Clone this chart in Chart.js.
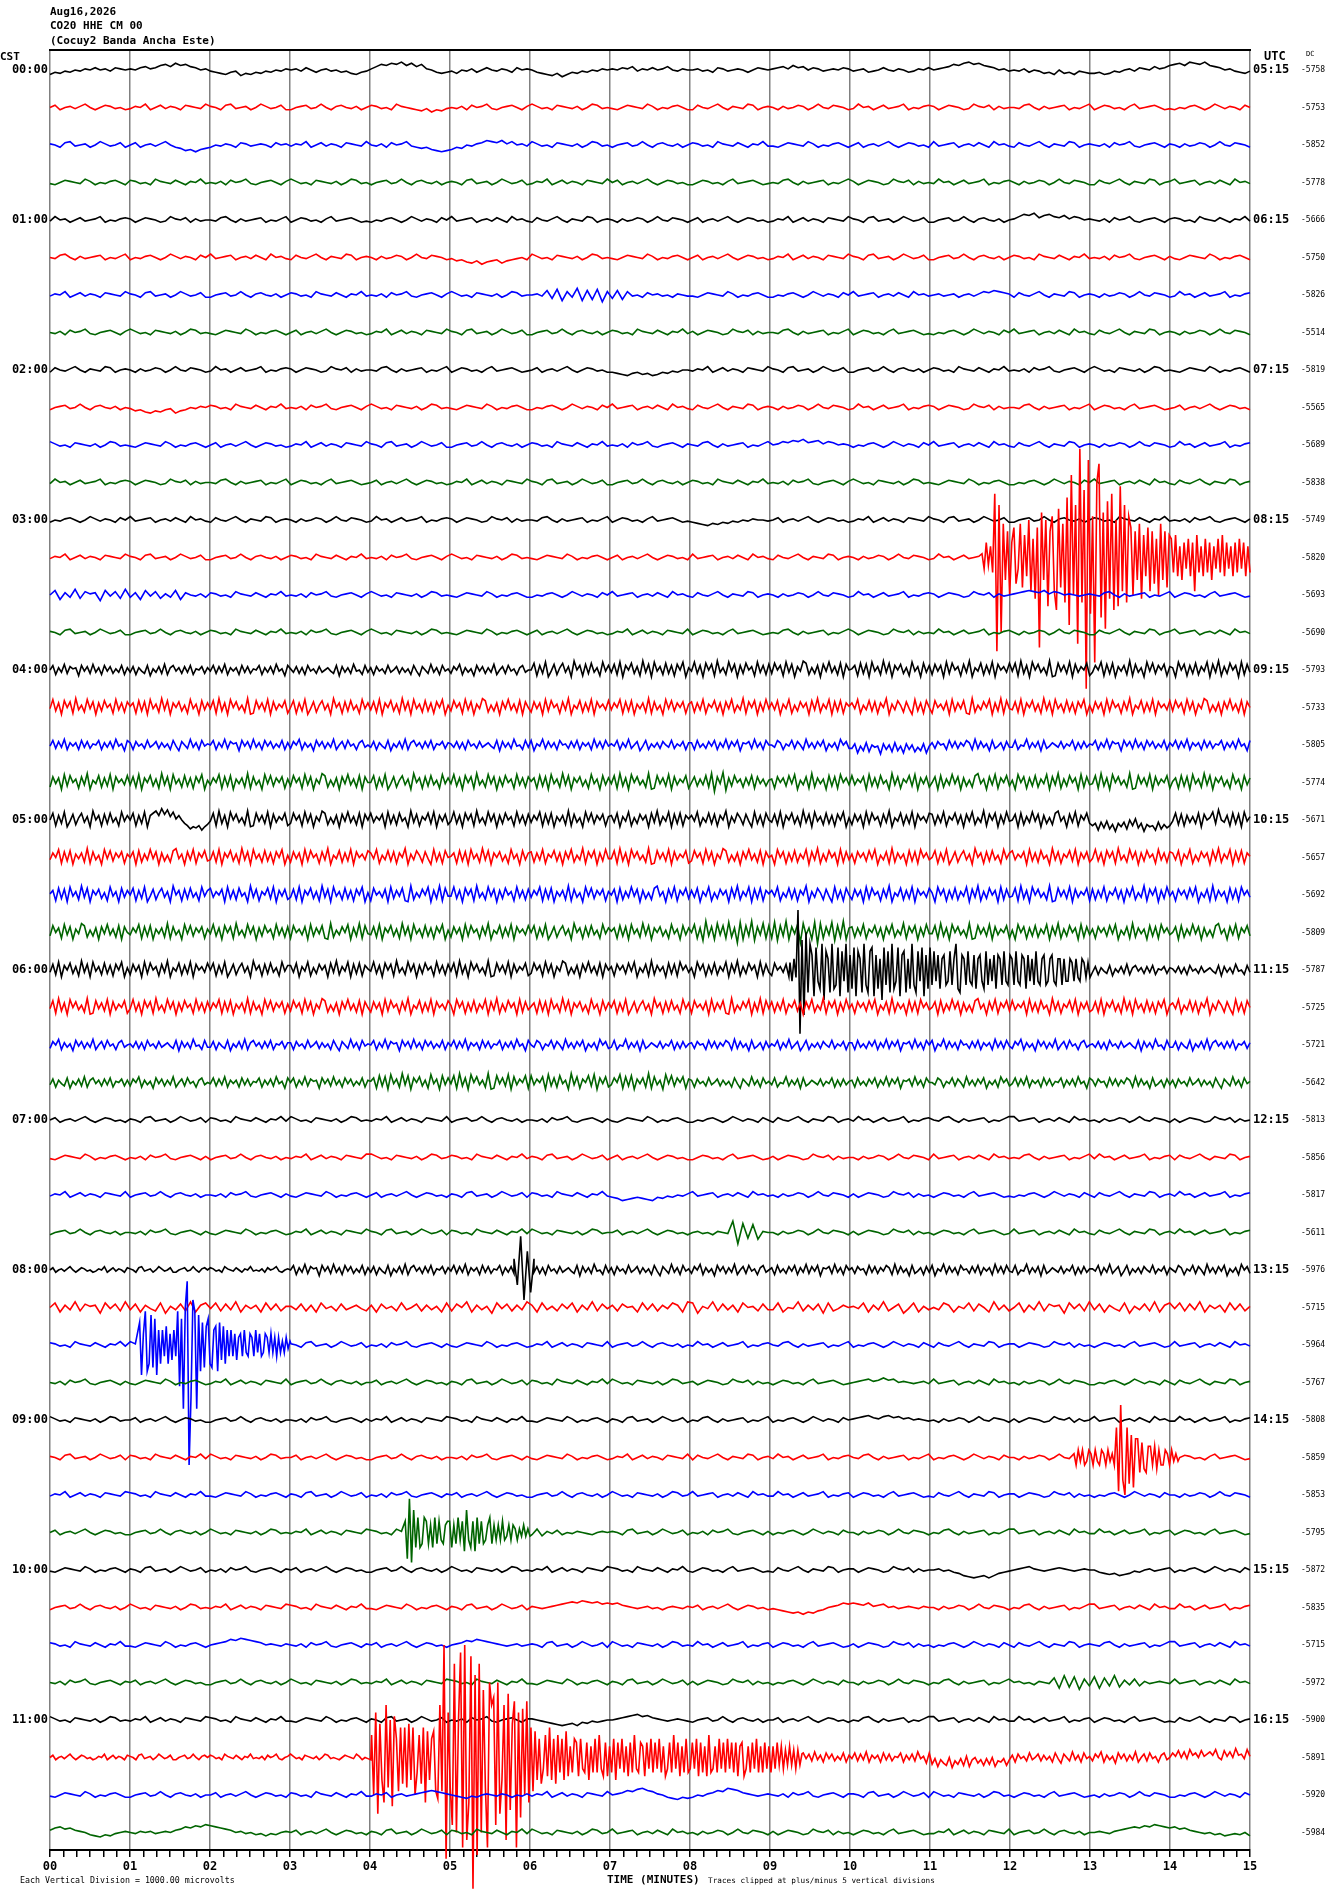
<!DOCTYPE html>
<html>
<head>
<meta charset="utf-8">
<script src="https://cdn.jsdelivr.net/npm/chart.js@4.4.1/dist/chart.umd.min.js"></script>
<style>
  html, body { margin: 0; padding: 0; background: #fff; }
  #heli { display: block; }
</style>
</head>
<body>
<canvas id="heli" width="1330" height="1894"></canvas>
<script>
// ---- labels ----
const headerLines = ['Aug16,2026', 'CO20 HHE CM 00', '(Cocuy2 Banda Ancha Este)'];
const cstLabels = ['00:00','01:00','02:00','03:00','04:00','05:00','06:00','07:00','08:00','09:00','10:00','11:00'];
const utcLabels = ['05:15','06:15','07:15','08:15','09:15','10:15','11:15','12:15','13:15','14:15','15:15','16:15'];
const minuteLabels = ['00','01','02','03','04','05','06','07','08','09','10','11','12','13','14','15'];
const dcValues = [-5758,-5753,-5852,-5778, -5666,-5750,-5826,-5514, -5819,-5565,-5689,-5838,
                  -5749,-5820,-5693,-5690, -5793,-5733,-5805,-5774, -5671,-5657,-5692,-5809,
                  -5787,-5725,-5721,-5642, -5813,-5856,-5817,-5611, -5976,-5715,-5964,-5767,
                  -5808,-5859,-5853,-5795, -5872,-5835,-5715,-5972, -5900,-5891,-5920,-5984];

// ---- trace samples ----
// one letter per sample, 'm' = 0, each step = 30 microvolts; spaces mark the minutes
const baseStepUv = 30;
const burstStepUv = 100;
const uvPerDivision = 1000;

const traces00 = [
  'ikjlkmlnmomnlonm nmopnoqrpsqrpomn lkjiklhjikjlkmln mnlomkmnlmkljikl nprqsrtqsprnmkjk ljmlnkmomlnmkomn mkjihjgikjlkmlnm nmonplnmomnpmlnm mnlmkonlmnmkmonm nopnqopmonlmnmon lmnklmomlnmklnmo mnoprqstrsqpomnl mlnkmljkimjkilkj jkijlkmnlonmpnoq rsqtsrtqpomnlkjl',
  'mokmnlnpmkmonlmk lnmpkmolnmkonmlp nmkoplmnkmpnlmok kmnolmpmknomlnkm onlmkpnmlkjlikjl mlnkomnplkmnomkn pnlmkonmlnkmpolm lkmonmlpnkmlnomk komlnpmknmlpokmn mknlmonkmpmlonmk lpmnkmolmnpkmlno nkmonmklpnmoknlm mlopmknlmnokmlnp kmonlmknplmnomkl kmlnomkmpnlnmkom',
  'nmkoplmnkmpnlmok mokmnlnpmkjhigij kmlnmkonlmnmkomn lnmpkmolnmkonmlp mlnkomnplkjkihgh ikjmlnoqpoqnpmnl pnlmkonmlnkmpolm kmnolmpmknomlnkm onlmkpnmlomknmpl lkmonmlpnkmlnomk mokmnlnpmkmonlmk plmnokmnlomkpmnl komlnpmknmlpokmn mlnkomnplkmnomkn mknlmonkmpmlonmk',
  'lkmonmlpnkmlnomk onlmkpnmlomknmpl mlnkomnplkmnomkn pnlmkonmlnkmpolm kmnolmpmknomlnkm nmkoplmnkmpnlmok lnmpkmolnmkonmlp mokmnlnpmkmonlmk kmonlmknplmnomkl mlopmknlmnokmlnp nkmonmklpnmoknlm lpmnkmolmnpkmlno mknlmonkmpmlonmk komlnpmknmlpokmn plmnokmnlomkpmnl'
];
const traces01 = [
  'lpmnkmolmnpkmlno nkmonmklpnmoknlm mlopmknlmnokmlnp kmonlmknplmnomkl kmlnomkmpnlnmkom plmnokmnlomkpmnl komlnpmknmlpokmn mknlmonkmpmlonmk mokmnlnpmkmonlmk lnmpkmolnmkonmlp nmkoplmnkmpnlmok kmnolmpmknomlnkm nprqsoqrpoqnpomn mlnkomnplkmnomkn onlmkpnmlomknmpl',
  'mlopmknlmnokmlnp kmlnomkmpnlnmkom plmnokmnlomkpmnl komlnpmknmlpokmn mknlmonkmpmlonmk ljkihjgijkhjklmk pnlmkonmlnkmpolm lkmonmlpnkmlnomk mokmnlnpmkmonlmk lnmpkmolnmkonmlp nmkoplmnkmpnlmok kmnolmpmknomlnkm onlmkpnmlomknmpl mlnkomnplkmnomkn lkmonmlpnkmlnomk',
  'lnmpkmolnmkonmlp nmkoplmnkmpnlmok kmnolmpmknomlnkm onlmkpnmlomknmpl mlnkomnplkmnomkn pnlmkonmlnkmpolm mnlqjrhpkshqirgp jqiplmkomnlmknml lkmonmlpnkmlnomk kmlnomkmpnlnmkom plmnokmnlomkpmnl mnlmnkmnlnpoqpon komlnpmknmlpokmn mknlmonkmpmlonmk lpmnkmolmnpkmlno',
  'mlnkomnplkmnomkn pnlmkonmlnkmpolm lkmonmlpnkmlnomk mokmnlnpmkmonlmk lnmpkmolnmkonmlp nmkoplmnkmpnlmok kmnolmpmknomlnkm onlmkpnmlomknmpl nkmonmklpnmoknlm mlopmknlmnokmlnp kmonlmknplmnomkl kmlnomkmpnlnmkom plmnokmnlomkpmnl komlnpmknmlpokmn mknlmonkmpmlonmk'
];
const traces02 = [
  'komlnpmknmlpokmn mknlmonkmpmlonmk lpmnkmolmnpkmlno nkmonmklpnmoknlm mlopmknlmnokmlnp kmonlmknplmnomkl mokmnlnpmkmonlmk kjihjkijhikjlkmm lnmpkmolnmkonmlp nmkoplmnkmpnlmok kmnolmpmknomlnkm onlmkpnmlomknmpl mlnkomnplkmnomkn pnlmkonmlnkmpolm lkmonmlpnkmlnomk',
  'kmnolmpmknomlnkm ljkihjiklhjkmlnm onlmkpnmlomknmpl mlnkomnplkmnomkn pnlmkonmlnkmpolm lkmonmlpnkmlnomk kmlnomkmpnlnmkom plmnokmnlomkpmnl komlnpmknmlpokmn mknlmonkmpmlonmk lpmnkmolmnpkmlno nkmonmklpnmoknlm mlopmknlmnokmlnp kmonlmknplmnomkl mokmnlnpmkmonlmk',
  'pnlmkonmlnkmpolm lkmonmlpnkmlnomk mokmnlnpmkmonlmk lnmpkmolnmkonmlp nmkoplmnkmpnlmok kmnolmpmknomlnkm onlmkpnmlomknmpl mlnkomnplkmnomkn mlopmknlmnokmlnp mnpoqpropqnpomnm kmlnomkmpnlnmkom plmnokmnlomkpmnl komlnpmknmlpokmn mknlmonkmpmlonmk lpmnkmolmnpkmlno',
  'lpmnkmolmnpkmlno nkmonmklpnmoknlm mlopmknlmnokmlnp kmonlmknplmnomkl mokmnlnpmkmonlmk lnmpkmolnmkonmlp nmkoplmnkmpnlmok kmnolmpmknomlnkm onlmkpnmlomknmpl mlnkomnplkmnomkn pnlmkonmlnkmpolm lkmonmlpnkmlnomk kmlnomkmpnlnmkom plmnokmnlomkpmnl komlnpmknmlpokmn'
];
const traces03 = [
  'kmlnomkmpnlnmkom plmnokmnlomkpmnl komlnpmknmlpokmn mknlmonkmpmlonmk lpmnkmolmnpkmlno nkmonmklpnmoknlm mlopmknlmnokmlnp kmonlmknplmnomkl kjihjikjlkmlnmml mokmnlnpmkmonlmk lnmpkmolnmkonmlp nmkoplmnkmpnlmok kmnolmpmknomlnkm onlmkpnmlomknmpl mlnkomnplkmnomkn',
  'lnmpkmolnmkonmlp nmkoplmnkmpnlmok kmnolmpmknomlnkm onlmkpnmlomknmpl mlnkomnplkmnomkn pnlmkonmlnkmpolm lkmonmlpnkmlnomk mokmnlnpmkmonlmk plmnokmnlomkpmnl komlnpmknmlpokmn mknlmonkmpmlonmk lpmnkmolmnpkmlno nkmonmklpnmoknlm mlopmknlmnokmlnp kmonlmknplmnomkl',
  'mqiokrjpnohqlpjr koiqlpjnkqiomlnk onlmkpnmlomknmpl mlnkomnplkmnomkn pnlmkonmlnkmpolm lkmonmlpnkmlnomk kmlnomkmpnlnmkom plmnokmnlomkpmnl komlnpmknmlpokmn mknlmonkmpmlonmk lpmnkmolmnpkmlno nkmonmklpnmoknlm nopqpoqnpomnmlmn mlopmknlmnokmlnp kmonlmknplmnomkl',
  'nmkoplmnkmpnlmok kmnolmpmknomlnkm onlmkpnmlomknmpl mlnkomnplkmnomkn pnlmkonmlnkmpolm lkmonmlpnkmlnomk mokmnlnpmkmonlmk lnmpkmolnmkonmlp kmonlmknplmnomkl mlopmknlmnokmlnp nkmonmklpnmoknlm lpmnkmolmnpkmlno mknlmonkmpmlonmk komlnpmknmlpokmn plmnokmnlomkpmnl'
];
const traces04 = [
  'mqiokrjpnohqlpjrkoiqlpjnkqio kpioljqhnkpjrioqlojpkqinmpjo lqjpkrioloiqkpjnmqiokpjrlnhq nkpjoiqlnjpkmoljqhpkojrlmiqk oiplnjqkmpjokniqlhpmjrkoiqln jpmrioknhqlpjokrimpjqlnioqkm mshqjtglrioskpgumqhrjskohtlq kritgqmsjphukrgtlpisjqhrmtgo ltjqgsmrhukoitlrgqjsmphtkqir jsmqhtkrgplusiojqgrltkpisgrm nqhsjrgtlpiuksgqmrjohtlpgskq irlqgtjsmphrkugolsiqjtgrmpks lshujqgtmrkoiughslqjtgrkpmsh kqmthrjsgplqiuhrkogtlsjqmrhp ogtmrhqjsipltgrkuhpjsmqgtirk',
  'ltjqgsmrhukoitlrgqjsmphtkqir nqhsjrgtlpiuksgqmrjohtlpgskq lshujqgtmrkoiughslqjtgrkpmsh mshqjtglrioskpgumqhrjskohtlq kritgqmsjphukrgtlpisjqhrmtgo jsmqhtkrgplusiojqgrltkpisgrm irlqgtjsmphrkugolsiqjtgrmpks kqmthrjsgplqiuhrkogtlsjqmrhp riqkthpmsjqgrltiokuhrmsgqjtl qksgplthojrmqgskuipltgrjshqn qlthoksjrhqmugpksoirlgtjqhsm hsmpkrgtjqlshguiokrmtgqjuhsl kritgqmsjphukrgtlpisjqhrmtgo irlqgtjsmphrkugolsiqjtgrmpks jsmqhtkrgplusiojqgrltkpisgrm',
  'lqjpkrioloiqkpjnmqiokpjrlnhq oiplnjqkmpjokniqlhpmjrkoiqln mqiokrjpnohqlpjrkoiqlpjnkqio jpmrioknhqlpjokrimpjqlnioqkm kpioljqhnkpjrioqlojpkqinmpjo nkpjoiqlnjpkmoljqhpkojrlmiqk qhnlrjpkoiqmnjpkqioloirkpjql nlqiokrjmphlqinkojpmkqjnlpio oiqknjplqiokrjplqhonpjrkoiqm mkqoinlqjpmirkojplqhnkoirmpj jnflhogmklenimgohlfnimgkhnfl ojpmniqkpjolqoirjpknhqjloipk kqimlrjokphqjlomkpjnlqiojpkn mqiokrjpnohqlpjrkoiqlpjnkqio lqjpkrioloiqkpjnmqiokpjrlnhq',
  'irlqgtjsmphrkugolsiqjtgrmpks kritgqmsjphukrgtlpisjqhrmtgo kqmthrjsgplqiuhrkogtlsjqmrhp jsmqhtkrgplusiojqgrltkpisgrm mshqjtglrioskpgumqhrjskohtlq ltjqgsmrhukoitlrgqjsmphtkqir nqhsjrgtlpiuksgqmrjohtlpgskq lshujqgtmrkoiughslqjtgrkpmsh mrjpksiuerlvfqjsmpiqkshrlpjo phrmqjsltgokrhuiqlpgsjrhtmqk skpmrgtjqislogukrhpmsjtgqlri mrgsipktlrgqjoisulpgrkthqmsj ogtmrhqjsipltgrkuhpjsmqgtirk lshujqgtmrkoiughslqjtgrkpmsh nqhsjrgtlpiuksgqmrjohtlpgskq'
];
const traces05 = [
  'mshqjtglrioskpgumqhrjskohtlq mshqjtgqsuqwrvptnqmjhegfhdgi lshujqgtmrkoiughslqjtgrkpmsh jsmqhtkrgplusiojqgrltkpisgrm skpmrgtjqislogukrhpmsjtgqlri ltjqgsmrhukoitlrgqjsmphtkqir kqmthrjsgplqiuhrkogtlsjqmrhp qksgplthojrmqgskuipltgrjshqn qlthoksjrhqmugpksoirlgtjqhsm kritgqmsjphukrgtlpisjqhrmtgo irlqgtjsmphrkugolsiqjtgrmpks riqkthpmsjqgrltiokuhrmsgqjtl mrgsipktlrgqjoisulpgrkthqmsj hjdkfleicjgkemhnfjcighdkeifh lsirhqkpjsgrmotjvmkqhsjrgtlp',
  'kqmthrjsgplqiuhrkogtlsjqmrhp mrgsipktlrgqjoisulpgrkthqmsj kritgqmsjphukrgtlpisjqhrmtgo irlqgtjsmphrkugolsiqjtgrmpks qlthoksjrhqmugpksoirlgtjqhsm nqhsjrgtlpiuksgqmrjohtlpgskq riqkthpmsjqgrltiokuhrmsgqjtl lshujqgtmrkoiughslqjtgrkpmsh jsmqhtkrgplusiojqgrltkpisgrm ogtmrhqjsipltgrkuhpjsmqgtirk phrmqjsltgokrhuiqlpgsjrhtmqk mshqjtglrioskpgumqhrjskohtlq skpmrgtjqislogukrhpmsjtgqlri ltjqgsmrhukoitlrgqjsmphtkqir qksgplthojrmqgskuipltgrjshqn',
  'nqhsjrgtlpiuksgqmrjohtlpgskq mshqjtglrioskpgumqhrjskohtlq skpmrgtjqislogukrhpmsjtgqlri kritgqmsjphukrgtlpisjqhrmtgo hsmpkrgtjqlshguiokrmtgqjuhsl ltjqgsmrhukoitlrgqjsmphtkqir kqmthrjsgplqiuhrkogtlsjqmrhp mrgsipktlrgqjoisulpgrkthqmsj qksgplthojrmqgskuipltgrjshqn qlthoksjrhqmugpksoirlgtjqhsm irlqgtjsmphrkugolsiqjtgrmpks ogtmrhqjsipltgrkuhpjsmqgtirk lshujqgtmrkoiughslqjtgrkpmsh riqkthpmsjqgrltiokuhrmsgqjtl phrmqjsltgokrhuiqlpgsjrhtmqk',
  'jsmqhtkrgplusiojqgrltkpisgrm kqmthrjsgplqiuhrkogtlsjqmrhp ltjqgsmrhukoitlrgqjsmphtkqir hsmpkrgtjqlshguiokrmtgqjuhsl kritgqmsjphukrgtlpisjqhrmtgo irlqgtjsmphrkugolsiqjtgrmpks mshqjtglrioskpgumqhrjskohtlq nqhsjrgtlpiuksgqmrjohtlpgskq mthqfwjrgukshviqdvgsjwfrkuhs hvfsjwgrltdukqgvcuhrkvfsiwgq riqkthpmsjqgrltiokuhrmsgqjtl lshujqgtmrkoiughslqjtgrkpmsh ogtmrhqjsipltgrkuhpjsmqgtirk phrmqjsltgokrhuiqlpgsjrhtmqk mrgsipktlrgqjoisulpgrkthqmsj'
];
const traces06 = [
  'kritgqmsjphukrgtlpisjqhrmtgo irlqgtjsmphrkugolsiqjtgrmpks mshqjtglrioskpgumqhrjskohtlq qksgplthojrmqgskuipltgrjshqn ltjqgsmrhukoitlrgqjsmphtkqir lshujqgtmrkoiughslqjtgrkpmsh jsmqhtkrgplusiojqgrltkpisgrm phrmqjsltgokrhuiqlpgsjrhtmqk ogtmrhqjsipltgrkuhpjsmqgtirk hsmpkrgtjqlshguiokrmtgqjuhsl skpmrgtjqislogukrhpmsjtgqlri qlthoksjrhqmugpksoirlgtjqhsm nqhsjrgtlpiuksgqmrjohtlpgskq kpioljqhnkpjrioqlojpkqinmpjo nkpjoiqlnjpkmoljqhpkojrlmiqk',
  'lshujqgtmrkoiughslqjtgrkpmsh ltjqgsmrhukoitlrgqjsmphtkqir kqmthrjsgplqiuhrkogtlsjqmrhp jsmqhtkrgplusiojqgrltkpisgrm irlqgtjsmphrkugolsiqjtgrmpks ogtmrhqjsipltgrkuhpjsmqgtirk nqhsjrgtlpiuksgqmrjohtlpgskq mshqjtglrioskpgumqhrjskohtlq hsmpkrgtjqlshguiokrmtgqjuhsl riqkthpmsjqgrltiokuhrmsgqjtl phrmqjsltgokrhuiqlpgsjrhtmqk mrgsipktlrgqjoisulpgrkthqmsj skpmrgtjqislogukrhpmsjtgqlri kritgqmsjphukrgtlpisjqhrmtgo qlthoksjrhqmugpksoirlgtjqhsm',
  'jpmrioknhqlpjokrimpjqlnioqkm nkpjoiqlnjpkmoljqhpkojrlmiqk kpioljqhnkpjrioqlojpkqinmpjo oiplnjqkmpjokniqlhpmjrkoiqln mqiokrjpnohqlpjrkoiqlpjnkqio lqjpkrioloiqkpjnmqiokpjrlnhq mkqoinlqjpmirkojplqhnkoirmpj kqimlrjokphqjlomkpjnlqiojpkn ojpmniqkpjolqoirjpknhqjloipk nlqiokrjmphlqinkojpmkqjnlpio oiqknjplqiokrjplqhonpjrkoiqm qhnlrjpkoiqmnjpkqioloirkpjql jpmrioknhqlpjokrimpjqlnioqkm nkpjoiqlnjpkmoljqhpkojrlmiqk kpioljqhnkpjrioqlojpkqinmpjo',
  'kpioljqhnkpjrioqlojpkqinmpjo jpmrioknhqlpjokrimpjqlnioqkm lqjpkrioloiqkpjnmqiokpjrlnhq mqiokrjpnohqlpjrkoiqlpjnkqio nqhsjrgtlpiuksgqmrjohtlpgskq lshujqgtmrkoiughslqjtgrkpmsh skpmrgtjqislogukrhpmsjtgqlri kqmthrjsgplqiuhrkogtlsjqmrhp oiplnjqkmpjokniqlhpmjrkoiqln kqimlrjokphqjlomkpjnlqiojpkn oiqknjplqiokrjplqhonpjrkoiqm mkqoinlqjpmirkojplqhnkoirmpj lqjpkrioloiqkpjnmqiokpjrlnhq ojpmniqkpjolqoirjpknhqjloipk oiplnjqkmpjokniqlhpmjrkoiqln'
];
const traces07 = [
  'mokmnlnpmkmonlmk nmkoplmnkmpnlmok onlmkpnmlomknmpl pnlmkonmlnkmpolm lnmpkmolnmkonmlp kmnolmpmknomlnkm mlnkomnplkmnomkn lkmonmlpnkmlnomk kmlnomkmpnlnmkom komlnpmknmlpokmn lpmnkmolmnpkmlno mlopmknlmnokmlnp plmnokmnlomkpmnl mknlmonkmpmlonmk nkmonmklpnmoknlm',
  'lkmonmlpnkmlnomk mlnkomnplkmnomkn kmnolmpmknomlnkm lnmpkmolnmkonmlp pnlmkonmlnkmpolm onlmkpnmlomknmpl nmkoplmnkmpnlmok mokmnlnpmkmonlmk kmonlmknplmnomkl nkmonmklpnmoknlm mknlmonkmpmlonmk plmnokmnlomkpmnl mlopmknlmnokmlnp lpmnkmolmnpkmlno komlnpmknmlpokmn',
  'lnmpkmolnmkonmlp kmnolmpmknomlnkm mlnkomnplkmnomkn lkmonmlpnkmlnomk mokmnlnpmkmonlmk nmkoplmnkmpnlmok onlmkpnmlomknmpl kjhijkjihkjlkmln plmnokmnlomkpmnl mknlmonkmpmlonmk nkmonmklpnmoknlm kmonlmknplmnomkl kmlnomkmpnlnmkom komlnpmknmlpokmn lpmnkmolmnpkmlno',
  'kmnolmpmknomlnkm mlnkomnplkmnomkn lkmonmlpnkmlnomk lnmpkmolnmkonmlp nmkoplmnkmpnlmok onlmkpnmlomknmpl pnlmkonmlnkmpolm mokmnlnpmkmonlmk mnlmknmlwcuhtgnm mknlmonkmpmlonmk nkmonmklpnmoknlm kmonlmknplmnomkl plmnokmnlomkpmnl komlnpmknmlpokmn lpmnkmolmnpkmlno'
];
const traces08 = [
  'mokmnlnpmkmonlmklnmpkmolnmko nmkoplmnkmpnlmokkmnolmpmknom onlmkpnmlomknmplmlnkomnplkmn mqiokrjpnohqlpjrkoiqlpjnkqio kpioljqhnkpjrioqlojpkqinmpjo lqjpkrioloiqkpjnmqiokpjrlnhq nkpjoiqlnjpkmoljqhpkojrlmiqk oiplnjqkmpjokniqlhpmjrkoiqln jpmrioknhqlpjokrimpjqlnioqkm oiqknjplqiokrjplqhonpjrkoiqm ojpmniqkpjolqoirjpknhqjloipk qhnlrjpkoiqmnjpkqioloirkpjql kqimlrjokphqjlomkpjnlqiojpkn nlqiokrjmphlqinkojpmkqjnlpio mkqoinlqjpmirkojplqhnkoirmpj',
  'mqiokrjpnohqlpjr kpioljqhnkpjrioq lqjpkrioloiqkpjn nkpjoiqlnjpkmolj oiplnjqkmpjokniq jpmrioknhqlpjokr oiqknjplqiokrjpl ojpmniqkpjolqoir qhnlrjpkoiqmnjpk kqimlrjokphqjlom nlqiokrjmphlqink mkqoinlqjpmirkoj mqiokrjpnohqlpjr kpioljqhnkpjrioq lqjpkrioloiqkpjn',
  'onlmkpnmlomknmpl pnlmkonmlnkmpolm mokmnlnpmkmonlmk nmkoplmnkmpnlmok mlnkomnplkmnomkn lkmonmlpnkmlnomk lnmpkmolnmkonmlp kmnolmpmknomlnkm lpmnkmolmnpkmlno mlopmknlmnokmlnp kmlnomkmpnlnmkom komlnpmknmlpokmn nkmonmklpnmoknlm kmonlmknplmnomkl plmnokmnlomkpmnl',
  'mlnkomnplkmnomkn lkmonmlpnkmlnomk lnmpkmolnmkonmlp kmnolmpmknomlnkm mokmnlnpmkmonlmk nmkoplmnkmpnlmok onlmkpnmlomknmpl pnlmkonmlnkmpolm nkmonmklpnmoknlm kmonlmknplmnomkl mnopnoqopmnmlmnl plmnokmnlomkpmnl mknlmonkmpmlonmk kmlnomkmpnlnmkom komlnpmknmlpokmn'
];
const traces09 = [
  'pnlmkonmlnkmpolm mokmnlnpmkmonlmk kmnolmpmknomlnkm mlnkomnplkmnomkn lnmpkmolnmkonmlp onlmkpnmlomknmpl lkmonmlpnkmlnomk nmkoplmnkmpnlmok mlopmknlmnokmlnp kmlnomkmpnlnmkom nopqonpqopnomnml mknlmonkmpmlonmk nkmonmklpnmoknlm plmnokmnlomkpmnl lpmnkmolmnpkmlno',
  'nmkoplmnkmpnlmok onlmkpnmlomknmpl pnlmkonmlnkmpolm mokmnlnpmkmonlmk kmnolmpmknomlnkm mlnkomnplkmnomkn lkmonmlpnkmlnomk lnmpkmolnmkonmlp komlnpmknmlpokmn lpmnkmolmnpkmlno mlopmknlmnokmlnp kmlnomkmpnlnmkom mknlmonkmpmlonmk nkmonmklpnmoknlm kmonlmknplmnomkl',
  'lnmpkmolnmkonmlp onlmkpnmlomknmpl lkmonmlpnkmlnomk nmkoplmnkmpnlmok mlnkomnplkmnomkn mokmnlnpmkmonlmk kmnolmpmknomlnkm pnlmkonmlnkmpolm plmnokmnlomkpmnl lpmnkmolmnpkmlno kmonlmknplmnomkl komlnpmknmlpokmn nkmonmklpnmoknlm kmlnomkmpnlnmkom mknlmonkmpmlonmk',
  'mokmnlnpmkmonlmk kmnolmpmknomlnkm pnlmkonmlnkmpolm lnmpkmolnmkonmlp onlmkpnmlomknmpl lkmonmlpnkmlnomk kpjnlokmlnmlkmnm nmkoplmnkmpnlmok mlnkomnplkmnomkn kmlnomkmpnlnmkom mknlmonkmpmlonmk mlopmknlmnokmlnp plmnokmnlomkpmnl lpmnkmolmnpkmlno kmonlmknplmnomkl'
];
const traces10 = [
  'lkmonmlpnkmlnomk nmkoplmnkmpnlmok mlnkomnplkmnomkn mokmnlnpmkmonlmk kmnolmpmknomlnkm pnlmkonmlnkmpolm lnmpkmolnmkonmlp onlmkpnmlomknmpl kmonlmknplmnomkl komlnpmknmlpokmn nkmonmklpnmoknlm mnlmkjhgfghfhjkl mnopnmlmnonmlmnm mkjijhijlkmnlmno kmlnomkmpnlnmkom',
  'kmnolmpmknomlnkm pnlmkonmlnkmpolm lnmpkmolnmkonmlp onlmkpnmlomknmpl lkmonmlpnkmlnomk nmkoplmnkmpnlmok nmlmnopqrqsrqrpq pqonmlmnlmkmnmln mokmnlnpmkmonlmk lkjihigihjkmnoqp qpoqnopmnlmnmlnm mknlmonkmpmlonmk mlopmknlmnokmlnp plmnokmnlomkpmnl lpmnkmolmnpkmlno',
  'onlmkpnmlomknmpl lkmonmlpnkmlnomk mnoprqsrqpomnmln mlnkomnplkmnomkn mokmnlnpmkmonlmk mnoqprqponmlmnlm nmkoplmnkmpnlmok pnlmkonmlnkmpolm lpmnkmolmnpkmlno kmonlmknplmnomkl nkmonmklpnmoknlm kmlnomkmpnlnmkom komlnpmknmlpokmn mlopmknlmnokmlnp plmnokmnlomkpmnl',
  'mlnkomnplkmnomkn mokmnlnpmkmonlmk kmnolmpmknomlnkm pnlmkonmlnkmpolm lnmpkmolnmkonmlp onlmkpnmlomknmpl lkmonmlpnkmlnomk nmkoplmnkmpnlmok nkmonmklpnmoknlm kmlnomkmpnlnmkom mknlmonkmpmlonmk mlopmknlmnokmlnp mnlmknmlqhsirgpj rhqjsiokpjnlmnml plmnokmnlomkpmnl'
];
const traces11 = [
  'pnlmkonmlnkmpolm lnmpkmolnmkonmlp onlmkpnmlomknmpl lkmonmlpnkmlnomk nmkoplmnkmpnlmok mlnkomnplkmnomkn nmlkjihijhkjlklm mnopqrpqonmlmnml kmnolmpmknomlnkm mokmnlnpmkmonlmk mlopmknlmnokmlnp plmnokmnlomkpmnl lpmnkmolmnpkmlno kmonlmknplmnomkl komlnpmknmlpokmn',
  'mokmnlnpmkmonlmklnmpkmolnmko nmkoplmnkmpnlmokkmnolmpmknom onlmkpnmlomknmplmlnkomnplkmn pnlmkonmlnkmpolmlkmonmlpnkml kmlnomkmpnlnmkomplmnokmnlomk komlnpmknmlpokmnmknlmonkmpml lpmnkmolmnpkmlnonkmonmklpnmo mlopmknlmnokmlnpkmonlmknplmn mokmnlnpmkmonlmklnmpkmolnmko mqiokrjpnohqlpjrkoiqlpjnkqio lqjpkrioloiqkpjnmqiokpjrlnhq glekhfmdjglfnekmhkflgmejilfk oiplnjqkmpjokniqlhpmjrkoiqln jpmrioknhqlpjokrimpjqlnioqkm qnsmrltoqmsnprotmksnrmuopltn',
  'lkmonmlpnkmlnomk kmnolmpmknomlnkm mokmnlnpmkmonlmk onlmkpnmlomknmpl lnmokmnlmnopqpon mlkjlkmnmlnmkmln lnmpkmolnmkonmlp mnoqprsqpnmkjikj kmlnoqpsrqonmlmn mlnkomnplkmnomkn nmkoplmnkmpnlmok pnlmkonmlnkmpolm kmonlmknplmnomkl mknlmonkmpmlonmk kmlnomkmpnlnmkom',
  'oqrpqonmkjikjlmn mlnmnlmnmoprqsrt srqpomnlmkljlkmn mokmnlnpmkmonlmk nmkoplmnkmpnlmok onlmkpnmlomknmpl pnlmkonmlnkmpolm plmnokmnlomkpmnl mknlmonkmpmlonmk nkmonmklpnmoknlm kmonlmknplmnomkl lnmpkmolnmkonmlp kmnolmpmknomlnkm mnmlnopqrqsrtsrq rpqonmlmkljklkmj'
];

// ---- quake bursts, one step = 100 microvolts, up is positive ----
const burst0315 = [1,-3,4,-2,3,-4, 17,-25,14,-20, 9,-6,7,-10,4,8,-7,-3,9,-8,6,-5,10,-9,5,
  -11,8,-24,12,-6,10,-13,7,11,-9,-14,13,-8,9,-12, 16,-18,22,-10,14,-23,29,-12,18,-35,26,-15,11,-28,20,
  25,-16,12,-19,15,-11,17,-14,10,-13,19,-9,14,-12,11, 8,-10,7,-6,9,-11,6,-5,8,-9,7,-7,5,-10,9,-6,7,-8,6,
  5,-4,6,-5,3,-6,4,-3,5,-5,4,-9,6,-4,3,-5,5,-4,4,-6,3,-3,5,-4,6,-5,4,-3,3,-5,4,-4,5,-3,4,-5,3,-4];
const burst0600 = [2,-3,3,-2, 16,-17,8,-12,10,
  -6,7,4,-7,6,-3,-5,7,-8,5,3,-6,7,-5,-4,6,-7,5,-3,7,-6,4,
  -5,6,-7,5,3,-6,7,-4,-6,5,6,-7,4,-5,3,-8,6,-4,5,-6,7,-5,-3,6,-7,4,5,-6,3,-5,7,-4,-6,5,-3,6,-7,4,-5,6,
  -4,5,-3,4,-5,3,4,-4,-3,5,-4,3,7,-5,-6,4,3,-4,5,-3,-4,4,-5,3,4,-3,-5,5,-4,3,-3,4,-5,4,3,-4,5,-3,-4,4,
  3,-4,5,-3,-4,4,3,-5,4,-3,3,-4,5,-3,-4,3,4,-4,-3,3,4,-3,-4,3,3,-4,3,-3,-3,3,2,-3,3,-2,-3,3,2,-2,2,-2];
const burst0800 = [3,-4,9,-8,5,-6,3];
const burst0830 = [6,-8,3,9,-7,-5,8,-6,7,-8,4,-5, 4,-3,5,-5,3,-4,4,-3,
  9,-11,7,-17,10,17,-32,-14,12,9,-17,8, -7,6,-6,5,7,-5,-6,4,5,-7,6,-4,5,-5,4,
  -3,4,-3,3,-4,2,3,-3,4,-2,-3,3,2,-3,4,-2,3,-3,-2,3,2,-2,3,-2,2,-3,2,-2,1,-2,2,-1,1];
const burst0915 = [1,-2,2,-1,2,-2,-1,2,1,-2,2,-1,-2,2,1,-2,2,-1,1,-2,
  8,-9,14,-6,-10,8,-7,6,-8,5, 5,-4,4,-3,-4,3,3,-2,3,-3,2,-2,-2,2,1,-2,2,-1,1,-1];
const burst0945 = [3,-7,9,-8,6,-4, 4,-4,-3,4,3,-3,2,-4,4,-3,3,-2,-3,2,3,
  3,-4,2,-3,4,-2,3,-5,6,-2,-4,3,-5,4,-3,3,-3,-2,2,4,-3,2,-2, 2,-2,3,-2,-1,2,-2,2,1,-2,1,-1,2,-1,1,-1];
const burst1115 = [6,-10,12,-15,9,-6,-12,14,-8,10,-13,11,5,-9,8, -7,8,-8,9,-6,8,-10,-4,6,-7,8,-12,7,-6,5,7,
  -9,-11,14,-9,30,-27,12,-8, -18,25,-20,10,28,-24,30,-22,-12,27,-35,22,-26,25,-20,18,-8,-24,20,14,
  16,-18,20,-15,-6,14,-22,17,-14,9,15,-24,12,-16,13,-10,15,-12,8,-9, 7,-6,5,-7,-3,6,-5,8,-6,5,-7,6,-4,5,-6,7,-5,3,-4,5,
  4,-5,5,-3,-4,4,-6,3,-4,5,-4,6,-3,-5,4,-5,3,-4,5,-6,4,-3,5,-4,3,-5,4,-4,6,-3,-4,4,3,-5,4,-3,5,-4,
  4,-3,5,-4,3,-5,-3,4,-4,6,-3,4,-5,3,-4,5,-4,-3,4,-3,5,-5,4,-4,3,-5,6,-4,-3,3,-4,5,-3,4,-4,5,-3,4,
  -4,4,-5,3,4,-5,-3,3,-4,4,-3,5,-4,3,-4,4,-3,3,-4,3,-3,4,-2,3,-3,2,-2,3,-2,2,-3,2,-2,1];

// [trace index, from minute, to minute, samples]
const bursts = [
  [13, 11.65, 15.0, burst0315],
  [24, 9.25, 13.0, burst0600],
  [32, 5.8, 6.05, burst0800],
  [34, 1.12, 3.0, burst0830],
  [37, 12.8, 14.1, burst0915],
  [39, 4.44, 6.0, burst0945],
  [45, 4.02, 9.4, burst1115]
];

const traceColors = ['#000000', '#ff0000', '#0000ff', '#006400'];

const allTraces = [].concat(traces00, traces01, traces02, traces03, traces04, traces05,
  traces06, traces07, traces08, traces09, traces10, traces11);

function decode(s) {
  return s.replace(/\s+/g, '').split('').map(c => c.charCodeAt(0) - 109);
}

function traceData(k) {
  const v = decode(allTraces[k]);
  const n = v.length;
  let pts = v.map((d, i) => ({ x: i * 15 / (n - 1), y: k - d * baseStepUv / uvPerDivision }));
  bursts.filter(b => b[0] === k).forEach(([, from, to, vals]) => {
    const before = pts.filter(p => p.x < from);
    const after = pts.filter(p => p.x > to);
    const mid = vals.map((d, i) => ({
      x: from + i * (to - from) / (vals.length - 1),
      y: k - d * burstStepUv / uvPerDivision
    }));
    pts = before.concat(mid, after);
  });
  return pts;
}

const datasets = allTraces.map((_, k) => ({
  data: traceData(k),
  borderColor: traceColors[k % 4],
  borderWidth: 1.6,
  pointRadius: 0,
  tension: 0,
  fill: false,
  clip: false,
  order: allTraces.length - k,
  xAxisID: 'x',
  yAxisID: 'y'
}));

// trace k sits 20px under the top frame, 37.5px apart
const yMin = -20 / 37.5;
const yMax = yMin + 48;
const mono = 'DejaVu Sans Mono';

const textPlugin = {
  id: 'heliTexts',
  afterDraw(chart) {
    const c = chart.ctx;
    c.save();
    c.fillStyle = '#000';
    c.textBaseline = 'middle';
    c.textAlign = 'left';
    c.font = 'bold 11px "' + mono + '"';
    headerLines.forEach((t, i) => c.fillText(t, 50, 12 + i * 14.5));
    c.fillText('CST', 0, 57);
    c.font = 'bold 12px "' + mono + '"';
    c.fillText('UTC', 1264, 57);
    c.font = '7px "' + mono + '"';
    c.fillText('DC', 1306, 54);
    c.font = 'bold 11px "' + mono + '"';
    c.fillText('TIME (MINUTES)', 607, 1880);
    c.font = '8.3px "' + mono + '"';
    c.fillText('Each Vertical Division = 1000.00 microvolts', 20, 1881);
    c.font = '7.7px "' + mono + '"';
    c.fillText('Traces clipped at plus/minus 5 vertical divisions', 708, 1881);
    c.restore();
  }
};

const yCommon = {
  type: 'linear', min: yMin, max: yMax, reverse: true, bounds: 'data',
  grid: { display: false, drawTicks: false },
  border: { display: false }
};

new Chart(document.getElementById('heli').getContext('2d'), {
  type: 'line',
  data: { datasets },
  options: {
    responsive: false,
    animation: false,
    devicePixelRatio: 1,
    events: [],
    parsing: false,
    layout: { padding: 0 },
    plugins: { legend: { display: false }, tooltip: { enabled: false }, title: { display: false } },
    scales: {
      x: {
        type: 'linear', position: 'bottom', min: 0, max: 15, bounds: 'data',
        afterBuildTicks: s => { s.ticks = Array.from({ length: 91 }, (_, i) => ({ value: i / 6 })); },
        afterFit: s => { s.height = 44; },
        ticks: {
          autoSkip: false, maxRotation: 0, padding: 3, color: '#000',
          font: { family: mono, weight: 'bold', size: 12 },
          callback: (v, i) => (i % 6 === 0 ? minuteLabels[i / 6] : '')
        },
        grid: {
          color: c => (c.index % 6 === 0 ? '#808080' : 'rgba(0,0,0,0)'),
          lineWidth: 1.5, tickColor: '#000', tickLength: 7, tickWidth: 1.5
        },
        border: { color: '#000', width: 2 }
      },
      xTop: {
        type: 'linear', position: 'top', min: 0, max: 15, bounds: 'data',
        ticks: { display: false },
        grid: { display: false, drawTicks: false },
        border: { color: '#000', width: 2 },
        afterFit: s => { s.height = 50; }
      },
      y: Object.assign({}, yCommon, {
        position: 'left',
        afterBuildTicks: s => { s.ticks = cstLabels.map((_, i) => ({ value: i * 4 })); },
        afterFit: s => { s.width = 50; },
        ticks: { autoSkip: false, padding: 2, color: '#000', font: { family: mono, weight: 'bold', size: 12 },
          callback: v => cstLabels[Math.round(v / 4)] }
      }),
      yUtc: Object.assign({}, yCommon, {
        position: 'right', weight: 0,
        afterBuildTicks: s => { s.ticks = utcLabels.map((_, i) => ({ value: i * 4 })); },
        afterFit: s => { s.width = 42; },
        ticks: { autoSkip: false, padding: 3, color: '#000', font: { family: mono, weight: 'bold', size: 12 },
          callback: v => utcLabels[Math.round(v / 4)] }
      }),
      yDc: Object.assign({}, yCommon, {
        position: 'right', weight: 1,
        afterBuildTicks: s => { s.ticks = dcValues.map((_, i) => ({ value: i })); },
        afterFit: s => { s.width = 38; },
        ticks: { autoSkip: false, padding: 9, color: '#000', font: { family: mono, size: 8 },
          callback: v => String(dcValues[Math.round(v)]) }
      })
    }
  },
  plugins: [textPlugin]
});
</script>
</body>
</html>
